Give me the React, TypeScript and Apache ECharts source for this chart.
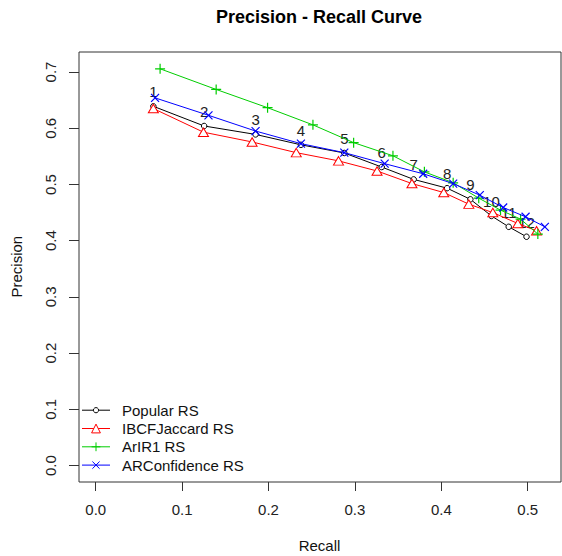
import React, { useEffect, useRef } from "react";
import * as echarts from "echarts";

const pointLabels = ["1", "2", "3", "4", "5", "6", "7", "8", "9", "10", "11", "12"];

const popularRecall = [0.0667, 0.1255, 0.185, 0.2375, 0.2877, 0.331, 0.368, 0.4067, 0.4336, 0.458, 0.478, 0.4986];
const popularPrecision = [0.639, 0.604, 0.589, 0.5705, 0.556, 0.531, 0.509, 0.4934, 0.4736, 0.444, 0.4247, 0.407];

const ibcfRecall = [0.0667, 0.1247, 0.181, 0.2321, 0.281, 0.3256, 0.366, 0.4028, 0.4318, 0.4596, 0.4885, 0.5102];
const ibcfPrecision = [0.635, 0.593, 0.5756, 0.5566, 0.542, 0.524, 0.5016, 0.4856, 0.465, 0.45, 0.4306, 0.4176];

const arirRecall = [0.0745, 0.1394, 0.1989, 0.2514, 0.2985, 0.344, 0.3804, 0.4137, 0.4433, 0.4685, 0.4917, 0.5117];
const arirPrecision = [0.7057, 0.669, 0.6365, 0.606, 0.5744, 0.551, 0.5224, 0.503, 0.4757, 0.4544, 0.4384, 0.4118];

const arconfRecall = [0.0687, 0.1305, 0.185, 0.2375, 0.2877, 0.3344, 0.379, 0.4137, 0.4445, 0.4716, 0.4975, 0.5198];
const arconfPrecision = [0.654, 0.623, 0.595, 0.5726, 0.5566, 0.537, 0.519, 0.5016, 0.481, 0.459, 0.4425, 0.4247];

const seriesNames = ["Popular RS", "IBCFJaccard RS", "ArIR1 RS", "ARConfidence RS"];
const seriesColors = ["#000000", "#ff0000", "#00cd00", "#0000ff"];
const xTicks = [0, 0.1, 0.2, 0.3, 0.4, 0.5];
const yTicks = [0, 0.1, 0.2, 0.3, 0.4, 0.5, 0.6, 0.7];

const FONT = "'Liberation Sans', Arial, sans-serif";
const PLUS = "path://M5,0L5,10M0,5L10,5";
const CROSS = "path://M0,0L10,10M10,0L0,10";

function pairs(xs: number[], ys: number[]) {
  return xs.map((x, i) => [x, ys[i]]);
}

export default function App() {
  const ref = useRef<HTMLDivElement>(null);
  useEffect(() => {
    if (!ref.current) return;
    const chart = echarts.init(ref.current, null, { renderer: "svg" });
    const legendCenters = [410.2, 428.5, 446.8, 465.1];
    const legendHeights = [6.5, 11, 11, 9];
    const option: any = {
      animation: false,
      backgroundColor: "#fff",
      title: {
        text: "Precision - Recall Curve",
        left: 216,
        top: 8,
        padding: 0,
        textStyle: { fontFamily: FONT, fontSize: 18, fontWeight: "bold", color: "#000" },
      },
      grid: {
        left: 79,
        right: 1,
        top: 52,
        bottom: 74,
        show: true,
        borderColor: "#333",
        borderWidth: 1,
        backgroundColor: "transparent",
      },
      xAxis: {
        type: "value",
        min: -0.01935,
        max: 0.5385,
        splitLine: { show: false },
        axisLine: { show: false, onZero: false },
        axisTick: { show: true, customValues: xTicks, length: 9, lineStyle: { color: "#333" } },
        axisLabel: {
          customValues: xTicks,
          formatter: (v: number) => v.toFixed(1),
          fontFamily: FONT,
          fontSize: 15,
          color: "#222",
          margin: 20,
        },
      },
      yAxis: {
        type: "value",
        min: -0.0292,
        max: 0.7356,
        splitLine: { show: false },
        axisLine: { show: false, onZero: false },
        axisTick: { show: true, customValues: yTicks, length: 10, lineStyle: { color: "#333" } },
        axisLabel: {
          customValues: yTicks,
          formatter: (v: number) => v.toFixed(1),
          rotate: 90,
          fontFamily: FONT,
          fontSize: 15,
          color: "#222",
          margin: 21,
        },
      },
      legend: seriesNames.map((n, i) => ({
        data: [n],
        orient: "vertical",
        left: 81.5,
        top: legendCenters[i] - 8,
        padding: 0,
        itemWidth: 28,
        itemHeight: legendHeights[i],
        lineStyle: { width: 1, color: seriesColors[i] },
        itemStyle: { borderWidth: 1 },
        textStyle: { fontFamily: FONT, fontSize: 15, color: "#111", lineHeight: 16, padding: [0, 0, 0, 7] },
        selectedMode: false,
      })),
      graphic: [
        {
          type: "text",
          x: 319.5,
          y: 545.5,
          style: { text: "Recall", font: `15px ${FONT}`, fill: "#111", textAlign: "center", textVerticalAlign: "middle" },
        },
        {
          type: "text",
          x: 16.7,
          y: 266.7,
          rotation: Math.PI / 2,
          style: { text: "Precision", font: `15px ${FONT}`, fill: "#111", textAlign: "center", textVerticalAlign: "middle" },
        },
      ],
      series: [
        {
          name: seriesNames[0],
          type: "line",
          data: pairs(popularRecall, popularPrecision),
          symbol: "circle",
          symbolSize: 5.5,
          lineStyle: { color: seriesColors[0], width: 1 },
          itemStyle: { color: "#fff", borderColor: seriesColors[0], borderWidth: 1 },
          label: {
            show: true,
            position: "top",
            distance: 4,
            fontFamily: FONT,
            fontSize: 15,
            color: "#222",
            formatter: (p: any) => pointLabels[p.dataIndex],
          },
          z: 2,
        },
        {
          name: seriesNames[1],
          type: "line",
          data: pairs(ibcfRecall, ibcfPrecision),
          symbol: "triangle",
          symbolSize: [10, 8.5],
          lineStyle: { color: seriesColors[1], width: 1 },
          itemStyle: { color: "#fff", borderColor: seriesColors[1], borderWidth: 1 },
          z: 3,
        },
        {
          name: seriesNames[2],
          type: "line",
          data: pairs(arirRecall, arirPrecision),
          symbol: PLUS,
          symbolSize: 10,
          lineStyle: { color: seriesColors[2], width: 1 },
          itemStyle: { color: seriesColors[2], borderColor: seriesColors[2], borderWidth: 1.2 },
          z: 4,
        },
        {
          name: seriesNames[3],
          type: "line",
          data: pairs(arconfRecall, arconfPrecision),
          symbol: CROSS,
          symbolSize: 8,
          lineStyle: { color: seriesColors[3], width: 1 },
          itemStyle: { color: seriesColors[3], borderColor: seriesColors[3], borderWidth: 1.2 },
          z: 5,
        },
      ],
    };
    chart.setOption(option);
    return () => chart.dispose();
  }, []);
  return <div ref={ref} style={{ width: 562, height: 556, position: "absolute", left: 0, top: 0 }} />;
}
